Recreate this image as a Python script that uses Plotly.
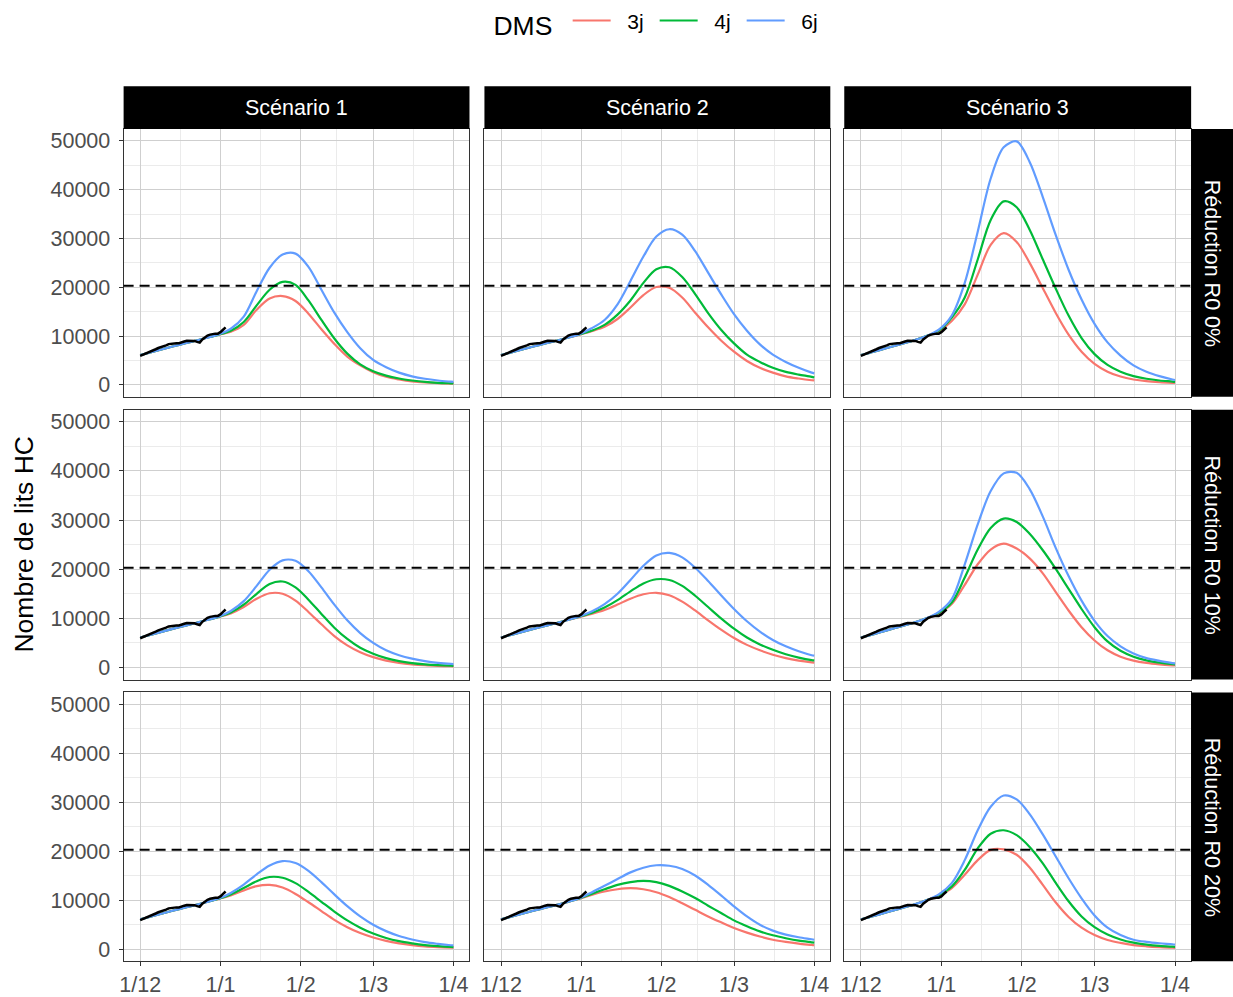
import plotly.graph_objects as go
import pandas as pd

# ---------------- data ----------------
START = pd.Timestamp("2020-12-01")
MODEL_DAYS = [0, 5, 10, 15, 20, 25, 30, 35, 40, 45, 50, 55, 60, 65, 70, 75,
              80, 85, 90, 95, 100, 105, 110, 115, 120, 121]
OBS_DAYS = list(range(0, 34))
OBS_VALUES = [5950, 6150, 6400, 6650, 6900, 7100, 7300, 7550, 7700, 7850,
              8100, 8350, 8450, 8550, 8550, 8550, 8650, 8900, 9050, 9050,
              9100, 9000, 8800, 8650, 9300, 9700, 10100, 10300, 10450, 10500,
              10500, 10800, 11300, 11800]

EARLY_S12 = [6100, 6800, 7500, 8200, 8850, 9550]
EARLY_S3 = [6100, 6800, 7550, 8300, 9050, 9950]

# Scenario 1
S1_R0_3J = EARLY_S12 + [10250, 10900, 12300, 15400, 17700, 18200, 17200, 14600, 11400, 8400, 5800, 4000, 2600, 1650, 1100, 700, 480, 350, 270, 250]
S1_R0_4J = EARLY_S12 + [10250, 11100, 12900, 16300, 19500, 21100, 20500, 17300, 13300, 9500, 6400, 4200, 2800, 1900, 1300, 900, 600, 420, 310, 290]
S1_R0_6J = EARLY_S12 + [10300, 11500, 14000, 19200, 24000, 26700, 26900, 24200, 19500, 14800, 10800, 7500, 5100, 3600, 2500, 1750, 1250, 900, 650, 600]
S1_R10_3J = EARLY_S12 + [10250, 11000, 12300, 14000, 15100, 15000, 13600, 11300, 8800, 6400, 4500, 3100, 2100, 1400, 950, 650, 450, 330, 250, 240]
S1_R10_4J = EARLY_S12 + [10250, 11200, 12800, 15000, 17000, 17500, 16300, 13800, 10900, 8100, 5800, 4000, 2800, 1900, 1300, 900, 640, 470, 350, 330]
S1_R10_6J = EARLY_S12 + [10300, 11500, 13500, 16600, 19900, 21800, 21700, 19600, 16300, 12800, 9600, 7000, 5000, 3500, 2500, 1800, 1300, 950, 720, 690]
S1_R20_3J = EARLY_S12 + [10250, 11000, 12000, 12900, 13150, 12600, 11300, 9600, 7800, 6000, 4500, 3300, 2400, 1700, 1200, 850, 600, 450, 340, 320]
S1_R20_4J = EARLY_S12 + [10250, 11200, 12500, 13900, 14750, 14600, 13500, 11700, 9700, 7700, 5900, 4400, 3200, 2300, 1650, 1200, 850, 620, 460, 440]
S1_R20_6J = EARLY_S12 + [10300, 11500, 13200, 15300, 17100, 18000, 17600, 16000, 13700, 11200, 8800, 6700, 5000, 3700, 2700, 2000, 1450, 1100, 820, 780]

# Scenario 2
S2_R0_3J = EARLY_S12 + [10250, 11000, 11900, 13500, 15850, 18400, 20050, 19900, 17900, 14800, 11800, 9100, 6800, 4900, 3500, 2500, 1750, 1300, 950, 900]
S2_R0_4J = EARLY_S12 + [10300, 11100, 12300, 14400, 17300, 20900, 23700, 24100, 22100, 18600, 14700, 11300, 8500, 6200, 4700, 3500, 2650, 2100, 1650, 1500]
S2_R0_6J = EARLY_S12 + [10350, 11600, 13300, 16500, 21300, 26300, 30400, 31900, 30800, 27400, 23000, 18600, 14500, 11100, 8300, 6200, 4700, 3500, 2500, 2350]
S2_R10_3J = EARLY_S12 + [10250, 10900, 11700, 12800, 14000, 14900, 15200, 14700, 13400, 11600, 9600, 7700, 6000, 4600, 3500, 2600, 1900, 1400, 1050, 1000]
S2_R10_4J = EARLY_S12 + [10300, 11100, 12200, 13700, 15500, 17100, 17950, 17800, 16600, 14600, 12300, 10000, 7900, 6100, 4700, 3600, 2700, 2000, 1500, 1450]
S2_R10_6J = EARLY_S12 + [10350, 11400, 12900, 15000, 17800, 20700, 22800, 23300, 22400, 20300, 17600, 14700, 11900, 9400, 7300, 5600, 4300, 3300, 2500, 2400]
S2_R20_3J = EARLY_S12 + [10250, 11100, 11800, 12250, 12470, 12250, 11650, 10650, 9400, 8050, 6700, 5500, 4350, 3400, 2600, 1950, 1500, 1150, 880, 820]
S2_R20_4J = EARLY_S12 + [10300, 11300, 12250, 13150, 13700, 13950, 13700, 12950, 11800, 10450, 8900, 7400, 5900, 4700, 3650, 2850, 2250, 1750, 1420, 1350]
S2_R20_6J = EARLY_S12 + [10350, 11600, 12950, 14350, 15700, 16650, 17150, 17050, 16400, 15050, 13150, 11000, 8750, 6700, 5000, 3800, 3000, 2450, 2050, 1950]

# Scenario 3
S3_R0_3J = EARLY_S3 + [11000, 13100, 16500, 22600, 28700, 31100, 29300, 25000, 19900, 14800, 10300, 6800, 4300, 2700, 1700, 1100, 750, 540, 400, 380]
S3_R0_4J = EARLY_S3 + [11100, 13800, 17900, 25700, 33800, 37600, 36400, 31800, 25800, 19800, 14200, 9600, 6300, 4100, 2700, 1800, 1250, 900, 680, 620]
S3_R0_6J = EARLY_S3 + [11300, 14200, 20900, 31400, 42300, 48700, 49900, 45700, 38600, 30800, 23600, 17500, 12500, 8700, 6000, 4000, 2700, 1800, 1100, 1000]
S3_R10_3J = EARLY_S3 + [11000, 12900, 16800, 21000, 24000, 25200, 24200, 22200, 19200, 15400, 11600, 8200, 5500, 3500, 2200, 1400, 920, 630, 430, 400]
S3_R10_4J = EARLY_S3 + [11100, 13200, 18300, 24000, 28400, 30300, 29600, 27200, 23900, 20100, 16000, 11900, 8200, 5300, 3400, 2200, 1450, 980, 680, 640]
S3_R10_6J = EARLY_S3 + [11300, 13900, 21000, 29100, 35900, 39500, 39600, 36300, 30800, 24400, 18600, 13600, 9500, 6400, 4300, 2850, 1900, 1350, 900, 820]
S3_R20_3J = EARLY_S3 + [11000, 12500, 15200, 18200, 20300, 20400, 19300, 16700, 13200, 9600, 6600, 4400, 2900, 1900, 1300, 850, 600, 430, 320, 300]
S3_R20_4J = EARLY_S3 + [11000, 12800, 16200, 20600, 23600, 24300, 23300, 20900, 17600, 13600, 9800, 6700, 4500, 3000, 2000, 1350, 950, 680, 520, 490]
S3_R20_6J = EARLY_S3 + [11200, 13500, 18200, 24300, 29100, 31400, 30600, 27600, 23500, 19000, 14500, 10400, 6900, 4400, 2900, 1950, 1500, 1220, 1020, 950]

SCENARIOS = ["Scénario 1", "Scénario 2", "Scénario 3"]
REDUCTIONS = ["Réduction R0 0%", "Réduction R0 10%", "Réduction R0 20%"]
DMS_LABELS = ["3j", "4j", "6j"]
PANELS = {
    (0, 0): [S1_R0_3J, S1_R0_4J, S1_R0_6J],
    (0, 1): [S2_R0_3J, S2_R0_4J, S2_R0_6J],
    (0, 2): [S3_R0_3J, S3_R0_4J, S3_R0_6J],
    (1, 0): [S1_R10_3J, S1_R10_4J, S1_R10_6J],
    (1, 1): [S2_R10_3J, S2_R10_4J, S2_R10_6J],
    (1, 2): [S3_R10_3J, S3_R10_4J, S3_R10_6J],
    (2, 0): [S1_R20_3J, S1_R20_4J, S1_R20_6J],
    (2, 1): [S2_R20_3J, S2_R20_4J, S2_R20_6J],
    (2, 2): [S3_R20_3J, S3_R20_4J, S3_R20_6J],
}
THRESHOLD = 20300
X_TICK_DATES = ["2020-12-01", "2021-01-01", "2021-02-01", "2021-03-01", "2021-04-01"]
X_TICK_TEXT = ["1/12", "1/1", "1/2", "1/3", "1/4"]
X_MINOR_DATES = ["2020-12-16 12:00", "2021-01-16 12:00", "2021-02-15", "2021-03-16 12:00"]
Y_TICKS = [0, 10000, 20000, 30000, 40000, 50000]
Y_MINOR = [5000, 15000, 25000, 35000, 45000]

# ---------------- style / layout ----------------
W, H = 1233, 997
COLORS = ["#F8766D", "#00BA38", "#619CFF"]
FONT = "Liberation Sans, Arial, sans-serif"
COL_X = [(120, 467), (482, 829), (843, 1191)]
ROW_Y = [(127, 397), (410, 682), (695, 966)]
STRIP_TOP = (84, 127)
STRIP_RIGHT = (1191, 1233)

model_dates = [START + pd.Timedelta(days=d) for d in MODEL_DAYS]
obs_dates = [START + pd.Timedelta(days=d) for d in OBS_DAYS]
x_range = [START - pd.Timedelta(days=6.4), pd.Timestamp("2021-04-01") + pd.Timedelta(days=6.2)]
y_range = [-2450, 52450]

fig = go.Figure()
shapes = []
annotations = []
layout = {}

for (r, c), series in PANELS.items():
    k = r * 3 + c + 1
    xa = "x" if k == 1 else f"x{k}"
    ya = "y" if k == 1 else f"y{k}"
    for i, vals in enumerate(series):
        fig.add_trace(go.Scatter(
            x=model_dates, y=vals, mode="lines", name="\u00a0\u00a0" + DMS_LABELS[i],
            line=dict(color=COLORS[i], width=2.2, shape="spline", smoothing=0.9),
            legendgroup=DMS_LABELS[i], showlegend=(k == 1),
            xaxis=xa, yaxis=ya))
    fig.add_trace(go.Scatter(
        x=obs_dates, y=OBS_VALUES, mode="lines", line=dict(color="black", width=2.5),
        showlegend=False, xaxis=xa, yaxis=ya))

    x0, x1 = COL_X[c]
    y0, y1 = ROW_Y[r]
    common = dict(showline=True, mirror=True, linecolor="#333333", linewidth=1,
                  showgrid=True, gridcolor="#CFCFCF", gridwidth=1.1, zeroline=False,
                  ticklen=4, tickcolor="#333333", tickwidth=1,
                  tickfont=dict(family=FONT, size=21.5, color="#4D4D4D"))
    layout["xaxis" if k == 1 else f"xaxis{k}"] = dict(
        common, domain=[x0 / W, x1 / W], anchor=ya, type="date", range=x_range,
        tickmode="array", tickvals=X_TICK_DATES, ticktext=X_TICK_TEXT,
        showticklabels=(r == 2), ticks="outside" if r == 2 else "",
        minor=dict(tickmode="array", tickvals=X_MINOR_DATES, showgrid=True,
                   gridcolor="#EBEBEB", gridwidth=0.8, ticks=""))
    layout["yaxis" if k == 1 else f"yaxis{k}"] = dict(
        common, domain=[1 - y1 / H, 1 - y0 / H], anchor=xa, range=y_range,
        tickmode="array", tickvals=Y_TICKS, ticktext=[str(v) for v in Y_TICKS],
        showticklabels=(c == 0), ticks="outside" if c == 0 else "",
        ticklabelstandoff=4,
        minor=dict(tickmode="array", tickvals=Y_MINOR, showgrid=True,
                   gridcolor="#EBEBEB", gridwidth=0.8, ticks=""))
    dref = "x domain" if k == 1 else f"x{k} domain"
    shapes.append(dict(type="line", xref=dref, x0=0, x1=1, yref=ya,
                       y0=THRESHOLD, y1=THRESHOLD, layer="above",
                       line=dict(color="black", width=2, dash="10px,6px")))

# strips
for c, label in enumerate(SCENARIOS):
    x0, x1 = COL_X[c]
    shapes.append(dict(type="rect", xref="paper", yref="paper",
                       x0=x0 / W, x1=x1 / W, y0=1 - STRIP_TOP[1] / H, y1=1 - STRIP_TOP[0] / H,
                       fillcolor="black", line=dict(width=0), layer="above"))
    annotations.append(dict(text=label, xref="paper", yref="paper",
                            x=(x0 + x1) / 2 / W, y=1 - (STRIP_TOP[0] + STRIP_TOP[1]) / 2 / H,
                            showarrow=False, font=dict(family=FONT, size=21.5, color="white"),
                            xanchor="center", yanchor="middle"))
for r, label in enumerate(REDUCTIONS):
    y0, y1 = ROW_Y[r]
    shapes.append(dict(type="rect", xref="paper", yref="paper",
                       x0=STRIP_RIGHT[0] / W, x1=STRIP_RIGHT[1] / W, y0=1 - y1 / H, y1=1 - y0 / H,
                       fillcolor="black", line=dict(width=0), layer="above"))
    annotations.append(dict(text=label, xref="paper", yref="paper",
                            x=(STRIP_RIGHT[0] + STRIP_RIGHT[1]) / 2 / W, y=1 - (y0 + y1) / 2 / H,
                            showarrow=False, textangle=90,
                            font=dict(family=FONT, size=21.5, color="white"),
                            xanchor="center", yanchor="middle"))

annotations.append(dict(text="Nombre de lits HC", xref="paper", yref="paper",
                        x=20 / W, y=1 - 546 / H, showarrow=False, textangle=-90,
                        font=dict(family=FONT, size=26.5, color="black"),
                        xanchor="center", yanchor="middle"))

fig.update_layout(
    width=W, height=H, margin=dict(l=0, r=0, t=0, b=0),
    paper_bgcolor="white", plot_bgcolor="white",
    shapes=shapes, annotations=annotations,
    legend=dict(orientation="h", x=489 / W, xanchor="left", y=1 - 20 / H, yanchor="middle",
                title=dict(text="DMS ", side="left", font=dict(family=FONT, size=26.5, color="black")),
                font=dict(family=FONT, size=21, color="black"), itemwidth=38,
                entrywidth=34, bgcolor="rgba(0,0,0,0)"),
    **layout)

fig.write_html("out.html", config={"displayModeBar": False},
               post_script="document.body.style.margin='0';document.body.style.overflow='hidden';")
